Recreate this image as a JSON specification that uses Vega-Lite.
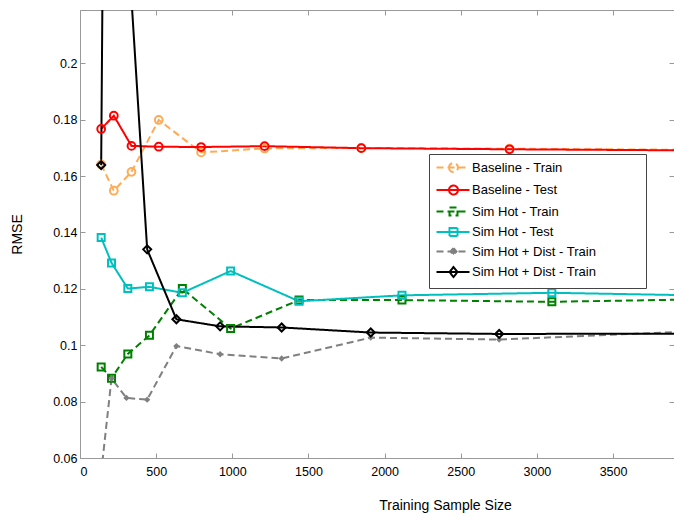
{
  "$schema": "https://vega.github.io/schema/vega-lite/v6.json",
  "width": 594,
  "height": 448,
  "autosize": {"type": "none"},
  "padding": {"left": 80, "top": 10, "right": 0, "bottom": 56},
  "background": "white",
  "config": {
    "view": {"stroke": null},
    "font": "Liberation Sans",
    "axis": {
      "grid": false,
      "domainColor": "#999999",
      "tickColor": "#999999",
      "domainWidth": 1,
      "tickWidth": 1,
      "tickSize": -5,
      "labelFont": "Liberation Sans",
      "labelFontSize": 12.5,
      "labelColor": "#000000",
      "titleFont": "Liberation Sans",
      "titleFontSize": 14,
      "titleFontWeight": "normal",
      "titleColor": "#000000"
    }
  },
  "data": {
    "values": [
      {"series": "Baseline - Train", "n": 139, "rmse": 0.1641},
      {"series": "Baseline - Train", "n": 222, "rmse": 0.1548},
      {"series": "Baseline - Train", "n": 338, "rmse": 0.1615},
      {"series": "Baseline - Train", "n": 517, "rmse": 0.1799},
      {"series": "Baseline - Train", "n": 795, "rmse": 0.1684},
      {"series": "Baseline - Train", "n": 1212, "rmse": 0.1698},
      {"series": "Baseline - Train", "n": 1847, "rmse": 0.1700},
      {"series": "Baseline - Train", "n": 2820, "rmse": 0.1697},
      {"series": "Baseline - Train", "n": 4330, "rmse": 0.1692},
      {"series": "Baseline - Test", "n": 139, "rmse": 0.1767},
      {"series": "Baseline - Test", "n": 222, "rmse": 0.1814},
      {"series": "Baseline - Test", "n": 338, "rmse": 0.1707},
      {"series": "Baseline - Test", "n": 517, "rmse": 0.1704},
      {"series": "Baseline - Test", "n": 795, "rmse": 0.1703},
      {"series": "Baseline - Test", "n": 1212, "rmse": 0.1706},
      {"series": "Baseline - Test", "n": 1847, "rmse": 0.1699},
      {"series": "Baseline - Test", "n": 2820, "rmse": 0.1695},
      {"series": "Baseline - Test", "n": 4330, "rmse": 0.1690},
      {"series": "Sim Hot - Train", "n": 139, "rmse": 0.0923},
      {"series": "Sim Hot - Train", "n": 207, "rmse": 0.0883},
      {"series": "Sim Hot - Train", "n": 314, "rmse": 0.0969},
      {"series": "Sim Hot - Train", "n": 456, "rmse": 0.1035},
      {"series": "Sim Hot - Train", "n": 672, "rmse": 0.1201},
      {"series": "Sim Hot - Train", "n": 989, "rmse": 0.1059},
      {"series": "Sim Hot - Train", "n": 1438, "rmse": 0.1160},
      {"series": "Sim Hot - Train", "n": 2114, "rmse": 0.1160},
      {"series": "Sim Hot - Train", "n": 3098, "rmse": 0.1154},
      {"series": "Sim Hot - Train", "n": 4550, "rmse": 0.1167},
      {"series": "Sim Hot - Test", "n": 139, "rmse": 0.1382},
      {"series": "Sim Hot - Test", "n": 207, "rmse": 0.1292},
      {"series": "Sim Hot - Test", "n": 314, "rmse": 0.1201},
      {"series": "Sim Hot - Test", "n": 456, "rmse": 0.1207},
      {"series": "Sim Hot - Test", "n": 672, "rmse": 0.1186},
      {"series": "Sim Hot - Test", "n": 989, "rmse": 0.1263},
      {"series": "Sim Hot - Test", "n": 1438, "rmse": 0.1156},
      {"series": "Sim Hot - Test", "n": 2114, "rmse": 0.1177},
      {"series": "Sim Hot - Test", "n": 3098, "rmse": 0.1186},
      {"series": "Sim Hot - Test", "n": 4550, "rmse": 0.1172},
      {"series": "Sim Hot + Dist - Train", "n": 139, "rmse": 0.0548},
      {"series": "Sim Hot + Dist - Train", "n": 207, "rmse": 0.0882},
      {"series": "Sim Hot + Dist - Train", "n": 305, "rmse": 0.0813},
      {"series": "Sim Hot + Dist - Train", "n": 441, "rmse": 0.0807},
      {"series": "Sim Hot + Dist - Train", "n": 633, "rmse": 0.0997},
      {"series": "Sim Hot + Dist - Train", "n": 920, "rmse": 0.0968},
      {"series": "Sim Hot + Dist - Train", "n": 1324, "rmse": 0.0953},
      {"series": "Sim Hot + Dist - Train", "n": 1909, "rmse": 0.1027},
      {"series": "Sim Hot + Dist - Train", "n": 2752, "rmse": 0.1020},
      {"series": "Sim Hot + Dist - Train", "n": 3963, "rmse": 0.1048},
      {"series": "Sim Hot + Dist - Test", "n": 139, "rmse": 0.1639},
      {"series": "Sim Hot + Dist - Test", "n": 207, "rmse": 0.65},
      {"series": "Sim Hot + Dist - Test", "n": 305, "rmse": 0.2512},
      {"series": "Sim Hot + Dist - Test", "n": 441, "rmse": 0.1340},
      {"series": "Sim Hot + Dist - Test", "n": 633, "rmse": 0.1092},
      {"series": "Sim Hot + Dist - Test", "n": 920, "rmse": 0.1067},
      {"series": "Sim Hot + Dist - Test", "n": 1324, "rmse": 0.1063},
      {"series": "Sim Hot + Dist - Test", "n": 1909, "rmse": 0.1045},
      {"series": "Sim Hot + Dist - Test", "n": 2752, "rmse": 0.1040},
      {"series": "Sim Hot + Dist - Test", "n": 3963, "rmse": 0.1041}
    ]
  },
  "layer": [
    {
      "mark": {"type": "line", "strokeWidth": 2, "clip": true},
      "encoding": {
        "x": {
          "field": "n", "type": "quantitative",
          "scale": {"domain": [0, 3900], "nice": false, "zero": false},
          "axis": {
            "orient": "bottom",
            "values": [0, 500, 1000, 1500, 2000, 2500, 3000, 3500],
            "format": "d",
            "labelPadding": 12,
            "title": "Training Sample Size",
            "titleX": 365,
            "titleY": 51,
            "titleBaseline": "alphabetic",
            "titleAnchor": "middle"
          }
        },
        "y": {
          "field": "rmse", "type": "quantitative",
          "scale": {"domain": [0.06, 0.2189], "nice": false, "zero": false},
          "axis": {
            "orient": "left",
            "values": [0.06, 0.08, 0.1, 0.12, 0.14, 0.16, 0.18, 0.2],
            "format": ".2~f",
            "labelPadding": 8,
            "title": "RMSE",
            "titleX": -63,
            "titleY": 224,
            "titleBaseline": "middle",
            "titleAngle": -90,
            "titleAnchor": "middle"
          }
        },
        "color": {
          "field": "series", "type": "nominal",
          "scale": {
            "domain": ["Baseline - Train", "Baseline - Test", "Sim Hot - Train", "Sim Hot - Test", "Sim Hot + Dist - Train", "Sim Hot + Dist - Test"],
            "range": ["#FFAA55", "#FF0000", "#008000", "#00BFBF", "#808080", "#000000"]
          },
          "legend": {
            "orient": "none",
            "legendX": 349,
            "legendY": 144,
            "title": " ",
            "titleOrient": "right",
            "titlePadding": 43,
            "titleFontSize": 13,
            "fillColor": "white",
            "strokeColor": "#444444",
            "padding": 7,
            "labelFont": "Liberation Sans",
            "labelFontSize": 13,
            "labelColor": "#000000",
            "symbolSize": 64,
            "symbolStrokeWidth": 2,
            "labelOffset": 23,
            "rowPadding": 3.5,
            "labelExpr": "datum.value === 'Sim Hot + Dist - Test' ? 'Sim Hot + Dist - Train' : datum.label",
            "encode": {
              "symbols": {
                "update": {
                  "shape": {"signal": "['M-1.5,0H6.75M1.625,0A1.125,1.125,0,1,0,3.875,0A1.125,1.125,0,1,0,1.625,0','M-1.5,0H6.75M1.625,0A1.125,1.125,0,1,0,3.875,0A1.125,1.125,0,1,0,1.625,0','M-1.5,0H6.75M1.75,-1H3.75V1H1.75Z','M-1.5,0H6.75M1.75,-1H3.75V1H1.75Z','M-1.5,0H6.75M2.75,-0.85L3.5,0L2.75,0.85L2,0Z','M-1.5,0H6.75M2.75,-1.25L3.75,0L2.75,1.25L1.75,0Z'][indexof(['Baseline - Train','Baseline - Test','Sim Hot - Train','Sim Hot - Test','Sim Hot + Dist - Train','Sim Hot + Dist - Test'], datum.value)]"},
                  "strokeDash": {"signal": "indexof(['Baseline - Train','Sim Hot - Train','Sim Hot + Dist - Train'], datum.value) >= 0 ? [4, 3] : [1, 0]"},
                  "fill": {"signal": "datum.value === 'Sim Hot + Dist - Train' ? '#808080' : 'transparent'"},
                  "strokeWidth": {"value": 2},
                  "opacity": {"value": 1}
                }
              }
            }
          }
        },
        "strokeDash": {
          "field": "series", "type": "nominal",
          "scale": {
            "domain": ["Baseline - Train", "Baseline - Test", "Sim Hot - Train", "Sim Hot - Test", "Sim Hot + Dist - Train", "Sim Hot + Dist - Test"],
            "range": [[7, 4], [1, 0], [7, 4], [1, 0], [7, 4], [1, 0]]
          },
          "legend": null
        }
      }
    },
    {
      "transform": [{"filter": "datum.series === 'Baseline - Train' || datum.series === 'Baseline - Test'"}],
      "mark": {"type": "point", "shape": "circle", "size": 60, "filled": false, "strokeWidth": 2, "opacity": 1, "clip": true},
      "encoding": {
        "x": {
          "field": "n", "type": "quantitative",
          "axis": {"orient": "top", "labels": false, "title": null, "values": [0, 500, 1000, 1500, 2000, 2500, 3000, 3500]}
        },
        "y": {
          "field": "rmse", "type": "quantitative",
          "axis": {"orient": "right", "labels": false, "title": null, "values": [0.06, 0.08, 0.1, 0.12, 0.14, 0.16, 0.18, 0.2]}
        },
        "stroke": {
          "field": "series", "type": "nominal",
          "scale": {
            "domain": ["Baseline - Train", "Baseline - Test", "Sim Hot - Train", "Sim Hot - Test"],
            "range": ["#FFAA55", "#FF0000", "#008000", "#00BFBF"]
          },
          "legend": null
        }
      }
    },
    {
      "transform": [{"filter": "datum.series === 'Sim Hot - Train' || datum.series === 'Sim Hot - Test'"}],
      "mark": {"type": "point", "shape": "square", "size": 49, "filled": false, "strokeWidth": 2, "opacity": 1, "clip": true},
      "encoding": {
        "x": {"field": "n", "type": "quantitative", "axis": null},
        "y": {"field": "rmse", "type": "quantitative", "axis": null},
        "stroke": {"field": "series", "type": "nominal", "legend": null}
      }
    },
    {
      "transform": [{"filter": "datum.series === 'Sim Hot + Dist - Train'"}],
      "mark": {"type": "point", "filled": true, "shape": "diamond", "size": 40, "color": "#808080", "opacity": 1, "clip": true},
      "encoding": {
        "x": {"field": "n", "type": "quantitative", "axis": null},
        "y": {"field": "rmse", "type": "quantitative", "axis": null}
      }
    },
    {
      "transform": [{"filter": "datum.series === 'Sim Hot + Dist - Test'"}],
      "mark": {"type": "point", "filled": false, "shape": "diamond", "size": 64, "color": "#000000", "strokeWidth": 2, "opacity": 1, "clip": true},
      "encoding": {
        "x": {"field": "n", "type": "quantitative", "axis": null},
        "y": {"field": "rmse", "type": "quantitative", "axis": null}
      }
    }
  ],
  "resolve": {"axis": {"x": "independent", "y": "independent"}}
}
